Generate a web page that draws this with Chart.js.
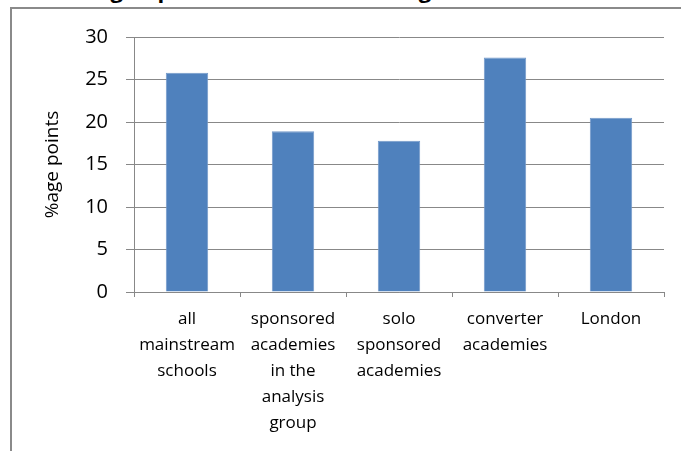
<!DOCTYPE html>
<html>
<head>
<meta charset="utf-8">
<script src="https://cdn.jsdelivr.net/npm/chart.js@4"></script>
<style>
  html, body { margin: 0; padding: 0; background: #fff; overflow: hidden; }
  #wrap { position: relative; width: 681px; height: 451px; }
  .frame { position: absolute; left: 10px; top: 7px; width: 700px; height: 470px;
           border-left: 2px solid #8a8a8a; border-top: 2px solid #8a8a8a; }
  .title { position: absolute; left: 4px; top: -22px; font: bold 22px "Open Sans"; line-height: 22px;
           white-space: nowrap; color: #000; letter-spacing: 0.2px; }
  canvas { position: absolute; left: 0; top: 0; }
</style>
</head>
<body>
<div id="wrap">
  <div class="frame"></div>
  <div class="title">Narrowing of points in the total change</div>
  <canvas id="myChart" width="681" height="451"></canvas>
</div>
<script>
//Chart data
var groups = [
  ["all", "mainstream", "schools"],
  ["sponsored", "academies", "in the", "analysis", "group"],
  ["solo", "sponsored", "academies"],
  ["converter", "academies"],
  ["London"]
];
var gapPoints = [25.8, 18.9, 17.8, 27.6, 20.5];
var yTicks = [0, 5, 10, 15, 20, 25, 30];

var gridGrey = '#888888';
var fontName = 'Open Sans';

var ctx = document.getElementById('myChart').getContext('2d');

var myChart = new Chart(ctx, {
  type: 'bar',
  data: {
    labels: groups,
    datasets: [{
      label: '%age points',
      data: gapPoints,
      backgroundColor: '#4f81bd',
      borderColor: '#7399c9',
      borderWidth: 1,
      barPercentage: 0.4,
      categoryPercentage: 1
    }]
  },
  options: {
    responsive: false,
    animation: false,
    layout: { padding: { left: 12, top: 37, right: 17, bottom: 0 } },
    plugins: {
      legend: { display: false },
      tooltip: { enabled: false }
    },
    scales: {
      x: {
        grid: { drawOnChartArea: false, drawTicks: true, tickLength: 5, color: gridGrey, offset: true },
        border: { display: true, color: gridGrey },
        ticks: {
          color: '#000',
          padding: 9,
          maxRotation: 0,
          autoSkip: false,
          font: { family: fontName, size: 17, lineHeight: 1.53 }
        },
        afterFit: function (scale) { scale.height = 159; }
      },
      y: {
        min: 0,
        max: 30,
        afterBuildTicks: function (scale) {
          scale.ticks = yTicks.map(function (v) { return { value: v }; });
        },
        grid: { color: gridGrey, tickLength: 8, drawTicks: true },
        border: { display: true, color: gridGrey },
        ticks: {
          color: '#000',
          padding: 18,
          font: { family: fontName, size: 20 }
        },
        title: {
          display: true,
          text: '%age points',
          color: '#000',
          padding: { top: 29, bottom: 0 },
          font: { family: fontName, size: 19 }
        },
        afterFit: function (scale) { scale.width = 122; }
      }
    }
  }
});
</script>
</body>
</html>
